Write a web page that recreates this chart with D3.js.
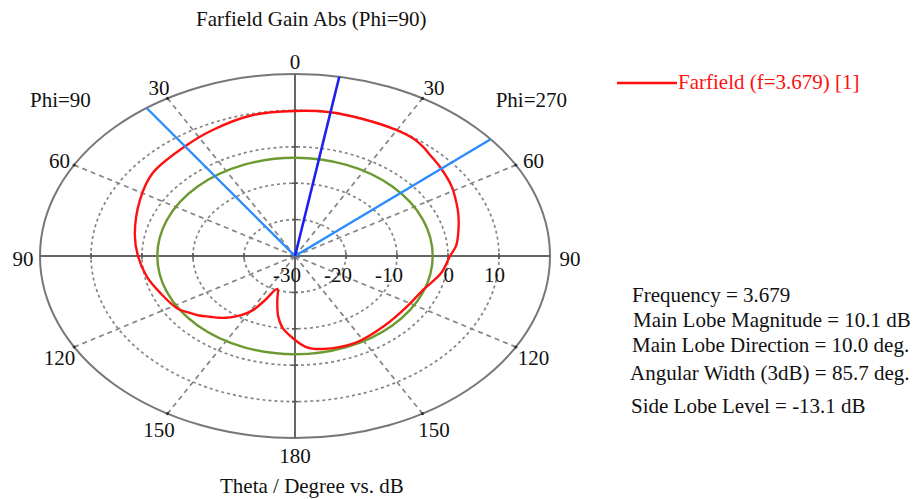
<!DOCTYPE html>
<html>
<head>
<meta charset="utf-8">
<script src="https://cdn.jsdelivr.net/npm/d3@7"></script>
<style>
  body { margin: 0; background: #fff; }
  text { font-family: "Liberation Serif", "Times New Roman", serif; }
</style>
</head>
<body>
<svg id="chart" width="917" height="499"></svg>
<script>
// Farfield cut: theta in degrees, negative = Phi=90 half (left), positive = Phi=270 half (right)
const thetaDeg = [-179, -173, -169, -167, -164, -159, -154, -151, -147, -143, -139, -135, -131, -127, -122,
                  -111, -101, -90, -79, -63, -51, -36, -25, -12, 0,
                  10, 20, 30, 36, 40, 44, 50, 58, 65, 71, 79, 85, 90, 99,
                  111, 122, 138, 153, 168, 175];
const gainDb = [-7.4, -10.1, -12.9, -14.7, -17.4, -20.3, -16.4, -13.0, -10.6, -8.9, -7.5, -6.4, -5.1, -4.1, -2.8,
                -1.7, -0.4, 0.8, 2.0, 4.1, 6.0, 7.0, 8.2, 9.6, 9.85,
                10.1, 9.9, 9.9, 9.7, 9.1, 8.3, 7.4, 6.2, 4.9, 3.9, 2.6, 1.7, 0.4, -0.9,
                -3.3, -4.0, -4.0, -3.4, -3.9, -4.9];

const ringLevels = [-20, -10, 0, 10];          // dashed rings
const radialLabels = [-30, -20, -10, 0, 10];   // dB tick labels
const angleTicks = [0, 30, 60, 90, 120, 150, 180, -30, -60, -90, -120, -150];
const spokeAngles = [30, 60, 120, 150, -30, -60, -120, -150];

const mainLobeMagnitude = 10.1;
const mainLobeDirection = 10.0;
const beamEdges = [-35.6, 50.1];               // 3 dB points, width 85.7 deg
const sideLobeLevel = -13.1;

const titleText = "Farfield Gain Abs (Phi=90)";
const axisTitle = "Theta / Degree vs. dB";
const legendText = "Farfield (f=3.679) [1]";
const infoLines = [
  "Frequency = 3.679",
  "Main Lobe Magnitude = 10.1 dB",
  "Main Lobe Direction = 10.0 deg.",
  "Angular Width (3dB) = 85.7 deg.",
  "Side Lobe Level = -13.1 dB"
];

// ---- layout ----
const svg = d3.select("#chart");
const cx = 295, cy = 256, RX = 255, RY = 182;
const r = d3.scaleLinear().domain([-30, 20]).range([0, 1]);
const ang = d3.scaleLinear().domain([0, 180]).range([0, Math.PI]);
const px = (t, db) => cx + RX * r(db) * Math.sin(ang(t));
const py = (t, db) => cy - RY * r(db) * Math.cos(ang(t));

const grid = svg.append("g");

// dashed rings
grid.selectAll("ellipse.ring").data(ringLevels).join("ellipse")
  .attr("cx", cx).attr("cy", cy)
  .attr("rx", d => RX * r(d)).attr("ry", d => RY * r(d))
  .attr("fill", "none").attr("stroke", "#858585").attr("stroke-width", 1.7)
  .attr("stroke-dasharray", "3,3");

// dashed spokes
grid.selectAll("line.spoke").data(spokeAngles).join("line")
  .attr("x1", cx).attr("y1", cy)
  .attr("x2", d => px(d, 20)).attr("y2", d => py(d, 20))
  .attr("stroke", "#858585").attr("stroke-width", 1.7)
  .attr("stroke-dasharray", "5,4");

// outer boundary
grid.append("ellipse")
  .attr("cx", cx).attr("cy", cy).attr("rx", RX).attr("ry", RY)
  .attr("fill", "none").attr("stroke", "#777").attr("stroke-width", 2);

// main axes
grid.append("line").attr("x1", px(-90, 20)).attr("y1", cy).attr("x2", px(90, 20)).attr("y2", cy)
  .attr("stroke", "#666").attr("stroke-width", 2);
grid.append("line").attr("x1", cx).attr("y1", py(0, 20)).attr("x2", cx).attr("y2", py(180, 20))
  .attr("stroke", "#666").attr("stroke-width", 2);

// ring ticks on the axes
[0, 90, 180, -90].forEach(a => {
  ringLevels.forEach(lv => {
    const x = px(a, lv), y = py(a, lv);
    const horiz = Math.abs(a) === 90;
    grid.append("line")
      .attr("x1", horiz ? x : x - 3).attr("x2", horiz ? x : x + 3)
      .attr("y1", horiz ? y - 3 : y).attr("y2", horiz ? y + 3 : y)
      .attr("stroke", "#555").attr("stroke-width", 1.5);
  });
});

// small dots where spokes meet the boundary
grid.selectAll("circle.dot").data(spokeAngles).join("circle")
  .attr("cx", d => px(d, 20)).attr("cy", d => py(d, 20)).attr("r", 1.6)
  .attr("fill", "#333");

// side lobe level circle
const sllAbs = mainLobeMagnitude + sideLobeLevel;
svg.append("ellipse")
  .attr("cx", cx).attr("cy", cy)
  .attr("rx", RX * r(sllAbs)).attr("ry", RY * r(sllAbs))
  .attr("fill", "none").attr("stroke", "#6b9a30").attr("stroke-width", 2.4);

// gain pattern
const pts = thetaDeg.map((t, i) => [px(t, gainDb[i]), py(t, gainDb[i])]);
svg.append("path")
  .attr("d", d3.line().curve(d3.curveCatmullRomClosed.alpha(0.5))(pts))
  .attr("fill", "none").attr("stroke", "#ff1010").attr("stroke-width", 2.4)
  .attr("stroke-linejoin", "round");

// 3 dB beam edges
svg.selectAll("line.edge").data(beamEdges).join("line")
  .attr("x1", cx).attr("y1", cy)
  .attr("x2", d => px(d, 20)).attr("y2", d => py(d, 20))
  .attr("stroke", "#2a8cff").attr("stroke-width", 2.4);

// main lobe direction
svg.append("line")
  .attr("x1", cx).attr("y1", cy)
  .attr("x2", px(mainLobeDirection, 20)).attr("y2", py(mainLobeDirection, 20))
  .attr("stroke", "#2020ee").attr("stroke-width", 2.6);

// ---- text ----
const fs = 21;

svg.append("text").attr("x", 196).attr("y", 26).attr("font-size", fs).attr("fill", "#111")
  .text(titleText);
svg.append("text").attr("x", 220).attr("y", 493).attr("font-size", fs).attr("fill", "#111")
  .text(axisTitle);

// angle labels
svg.selectAll("text.ang").data(angleTicks).join("text")
  .attr("x", d => cx + (RX + 17) * Math.sin(ang(d)) + (d > 0 && d < 180 ? 3 : 0))
  .attr("y", d => cy - (RY + 15) * Math.cos(ang(d)) + 10)
  .attr("text-anchor", "middle").attr("font-size", fs).attr("fill", "#111")
  .text(d => Math.abs(d));

// radial labels
svg.selectAll("text.rad").data(radialLabels).join("text")
  .attr("x", d => px(90, d) + 6).attr("y", cy + 26)
  .attr("text-anchor", "end").attr("font-size", fs).attr("fill", "#111")
  .text(d => d);

// half-plane labels
svg.append("text").attr("x", cx - RX - 10).attr("y", 107).attr("font-size", fs).attr("fill", "#111")
  .text("Phi=90");
svg.append("text").attr("x", cx + RX + 17).attr("y", 107).attr("text-anchor", "end")
  .attr("font-size", fs).attr("fill", "#111").text("Phi=270");

// legend
svg.append("line").attr("x1", 617).attr("x2", 677).attr("y1", 83).attr("y2", 83)
  .attr("stroke", "#ff1010").attr("stroke-width", 2.4);
svg.append("text").attr("x", 678).attr("y", 89).attr("font-size", fs).attr("fill", "#ff1010")
  .text(legendText);

// result summary
const infoY = [302, 327, 352, 380, 413];
const infoX = [632, 633, 632, 630, 631];
svg.selectAll("text.info").data(infoLines).join("text")
  .attr("x", (d, i) => infoX[i]).attr("y", (d, i) => infoY[i])
  .attr("font-size", fs).attr("fill", "#111")
  .text(d => d);
</script>
</body>
</html>
